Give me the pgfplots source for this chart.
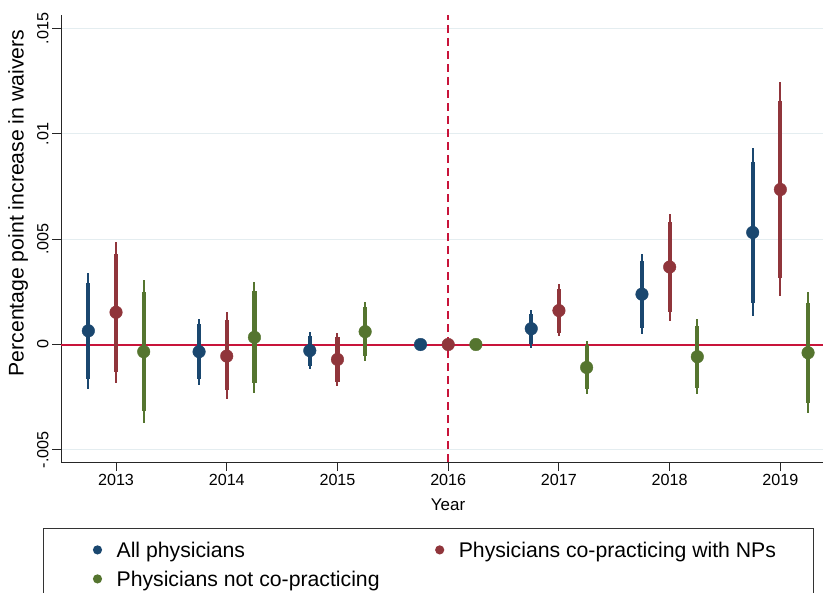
\documentclass[border=0pt]{standalone}
\usepackage{fontspec}
\setmainfont{Liberation Sans}
\usepackage{pgfplots}
\usepackage{pgfplotstable}
\pgfplotsset{compat=1.18}

\definecolor{navy}{HTML}{1A476F}
\definecolor{maroon}{HTML}{90353B}
\definecolor{fgreen}{HTML}{55752F}
\definecolor{zeroline}{HTML}{C8143A}
\definecolor{gridc}{HTML}{E4EDF0}

% x, estimate, 95% CI (thin), 90% CI (thick)
\pgfplotstableread{
x       y        lo95     hi95     lo90     hi90
2012.75 0.00065  -0.00213 0.00339  -0.00166 0.00290
2013.75 -0.00034 -0.00193 0.00121  -0.00166 0.00098
2014.75 -0.00029 -0.00118 0.00060  -0.00102 0.00040
2015.75 0        0        0        0        0
2016.75 0.00075  -0.00018 0.00164  0.00002  0.00145
2017.75 0.00239  0.00049  0.00430  0.00080  0.00398
2018.75 0.00532  0.00136  0.00931  0.00199  0.00866
}\allphys

\pgfplotstableread{
x       y        lo95     hi95     lo90     hi90
2013    0.00153  -0.00182 0.00488  -0.00130 0.00431
2014    -0.00055 -0.00261 0.00153  -0.00217 0.00117
2015    -0.00071 -0.00198 0.00053  -0.00177 0.00034
2016    0        0        0        0        0
2017    0.00161  0.00040  0.00287  0.00056  0.00263
2018    0.00368  0.00113  0.00621  0.00156  0.00580
2019    0.00736  0.00232  0.01247  0.00318  0.01156
}\copract

\pgfplotstableread{
x       y        lo95     hi95     lo90     hi90
2013.25 -0.00034 -0.00372 0.00304  -0.00317 0.00247
2014.25 0.00034  -0.00230 0.00299  -0.00185 0.00255
2015.25 0.00061  -0.00079 0.00201  -0.00055 0.00177
2016.25 0        0        0        0        0
2017.25 -0.00109 -0.00236 0.00018  -0.00209 -0.00002
2018.25 -0.00058 -0.00237 0.00120  -0.00206 0.00088
2019.25 -0.00039 -0.00325 0.00247  -0.00277 0.00199
}\notcopract

\pgfplotsset{
  ci95/.style={only marks, mark=none, forget plot,
    error bars/.cd, y dir=both, y explicit, error mark=none,
    error bar style={line width=2bp}},
  ci90/.style={only marks, mark=none, forget plot,
    error bars/.cd, y dir=both, y explicit, error mark=none,
    error bar style={line width=4.2bp}},
  est/.style={only marks, mark=*, mark size=6.3bp, mark options={draw=none, fill=#1}},
}

\newcommand{\ciplots}[2]{%
  \addplot[#2, ci95] table[x=x, y=y,
    y error plus expr=\thisrow{hi95}-(\thisrow{y}),
    y error minus expr=\thisrow{y}-(\thisrow{lo95})] {#1};
  \addplot[#2, ci90] table[x=x, y=y,
    y error plus expr=\thisrow{hi90}-(\thisrow{y}),
    y error minus expr=\thisrow{y}-(\thisrow{lo90})] {#1};
}

\begin{document}
\begin{tikzpicture}
\begin{axis}[
    scale only axis,
    width=762bp, height=447bp,
    xmin=2012.503, xmax=2019.385,
    ymin=-0.005579, ymax=0.015646,
    axis x line*=bottom, axis y line*=left,
    axis line style={line width=0.9bp, black!85},
    tick style={line width=0.9bp, black!85},
    tick align=outside, major tick length=9bp,
    xtick={2013,2014,2015,2016,2017,2018,2019},
    xticklabels={2013,2014,2015,2016,2017,2018,2019},
    ytick={-0.005,0,0.005,0.01,0.015},
    yticklabels={-.005,0,.005,.01,.015},
    scaled y ticks=false,
    ymajorgrids, grid style={line width=1bp, gridc},
    tick label style={font=\fontsize{16.2}{19}\selectfont},
    yticklabel style={rotate=90, anchor=south},
    xlabel={Year},
    ylabel={Percentage point increase in waivers},
    xlabel style={font=\fontsize{17}{20}\selectfont,
      at={(axis description cs:0.508,-0.0962)}, anchor=center},
    ylabel style={font=\fontsize{21.3}{24}\selectfont,
      at={(axis description cs:-0.0564,0.5794)}, anchor=center, rotate=0},
    legend columns=2,
    legend image code/.code={\fill[#1, draw=none] (0bp,0bp) circle (4.6bp);},
    legend style={at={(axis description cs:-0.02362,-0.14765)}, anchor=north west,
      draw=black!80, line width=0.8bp,
      font=\fontsize{21.3}{25}\selectfont,
      inner xsep=49.5bp, inner ysep=14.3bp, row sep=14.6bp,
      nodes={inner sep=0pt, text height=14.4bp, text depth=0pt},
      /tikz/every odd column/.append style={column sep=14.5bp},
      /tikz/every even column/.append style={column sep=0bp}},
  ]
  % reference lines
  \addplot[zeroline, line width=2bp, forget plot] coordinates {(2012.503,0) (2019.385,0)};
  \addplot[zeroline, line width=1.8bp, dash pattern=on 8bp off 5bp, forget plot]
    coordinates {(2016,-0.005579) (2016,0.015646)};

  \ciplots{\allphys}{navy}
  \addplot[navy, est=navy] table[x=x, y=y] {\allphys};
  \ciplots{\copract}{maroon}
  \addplot[maroon, est=maroon] table[x=x, y=y] {\copract};
  \ciplots{\notcopract}{fgreen}
  \addplot[fgreen, est=fgreen] table[x=x, y=y] {\notcopract};

  \legend{\makebox[318.5bp][l]{All physicians},
          \makebox[305.5bp][l]{Physicians co-practicing with NPs},
          \makebox[318.5bp][l]{Physicians not co-practicing}}
\end{axis}
\pgfresetboundingbox
\path[use as bounding box] ([shift={(-61bp,-131bp)}]current axis.south west)
  rectangle ([shift={(0bp,15bp)}]current axis.north east);
\end{tikzpicture}
\end{document}
